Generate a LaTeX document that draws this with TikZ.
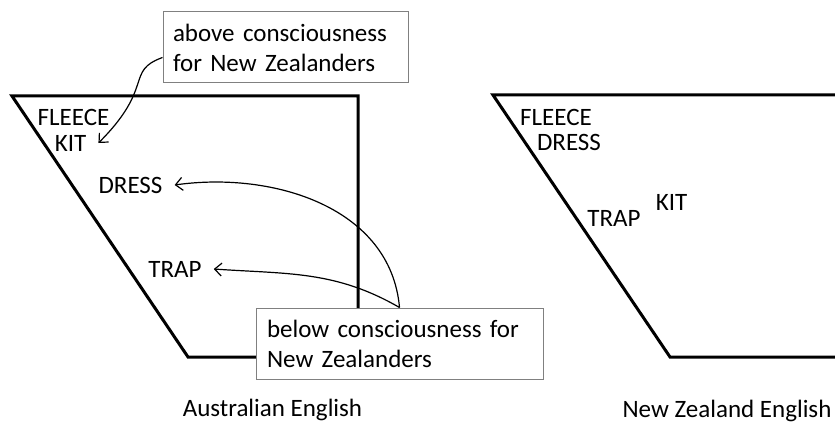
\documentclass[tikz,border=0pt]{standalone}
\usepackage{fontspec}
\setmainfont{Carlito}
\usepackage{tikz}
\usetikzlibrary{positioning, arrows.meta}
\tikzstyle{vowel} = [inner xsep=12pt,inner ysep=1pt,font=\fontsize{25}{30}\selectfont]
\tikzstyle{side} = [line width=3pt,line join=miter]
\tikzstyle{note} = [draw=gray,line width=1pt,fill=white,align=left,inner ysep=0pt,minimum height=71pt,font=\fontsize{25}{30}\selectfont]
\tikzstyle{arrow} = [-{Straight Barb[length=7pt,width=13pt]},line width=1.2pt]

\begin{document}
\begin{tikzpicture}[x=1pt,y=1pt]
			\useasboundingbox (0,0) rectangle (835,424);
			
			\draw[side] (12,328) -- (358,328) -- (358,67) -- (188,67) -- cycle;
			\draw[side] (835,329) -- (493,329) -- (670,67) -- (835,67);
			
			\node[vowel] (fleeceA) at (73.5,307) {FLEECE};
			\node[vowel,below of=fleeceA,node distance=26pt,xshift=-3pt] (kitA) {KIT};
			\node[vowel] (dressA) at (130.5,239) {DRESS};
			\node[vowel] (trapA) at (175,155) {TRAP};
			
			\node[vowel] (fleeceB) at (556,307) {FLEECE};
			\node[vowel,below of=fleeceB,node distance=25pt,xshift=13pt] (dressB) {DRESS};
			\node[vowel] (trapB) at (614,206) {TRAP};
			\node[vowel] (kitB) at (671.5,222) {KIT};
			
			\node[note,text width=225pt,inner xsep=10pt] (above) at (285.5,376.5) {above consciousness\\for New Zealanders};
			\node[note,text width=265pt,inner xsep=11pt] (below) at (399.5,80.5) {below consciousness for\\New Zealanders};
			
			\draw[arrow] ([yshift=-10pt]above.west) .. controls +(200:40) and +(45:80) .. (kitA.east);
			\draw[arrow] (below.north) to[out=95,in=8] (dressA.east);
			\draw[arrow] (below.north) to[out=150,in=-4] (trapA.east);
			
			\node[vowel] (ause) at (272.5,14) {Australian English};
			\node[vowel] (nze) at (727,13) {New Zealand English};
			
			\end{tikzpicture}
\end{document}
